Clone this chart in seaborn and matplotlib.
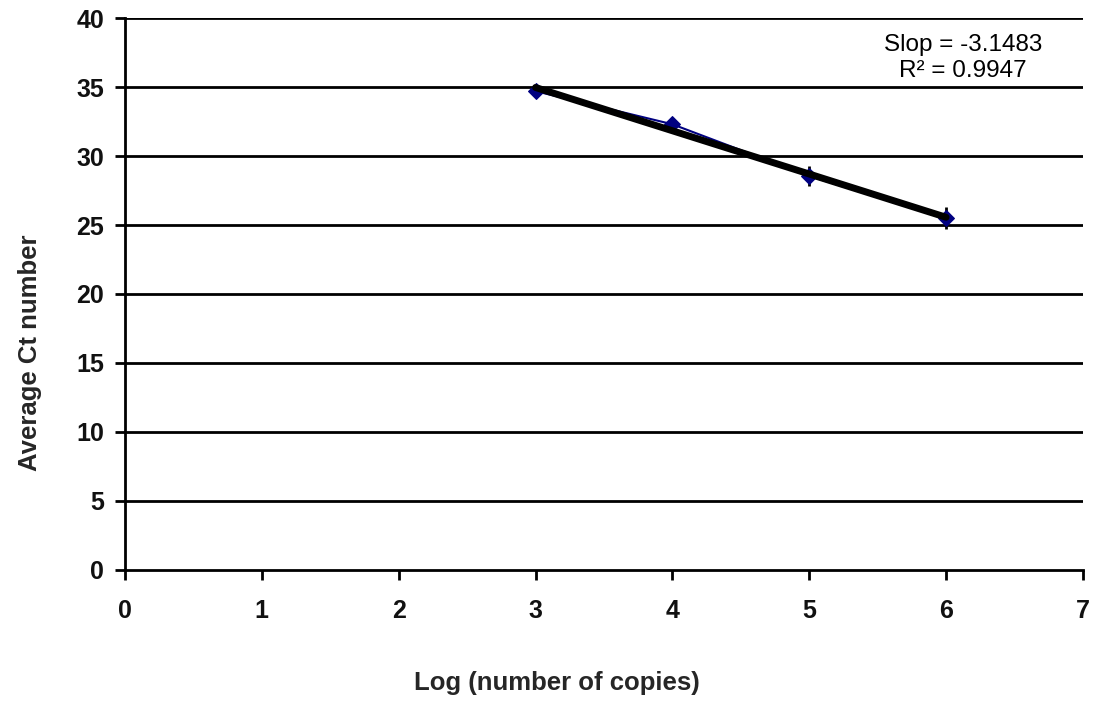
import matplotlib
matplotlib.use("Agg")
import matplotlib.pyplot as plt
import seaborn as sns
import numpy as np
import pandas as pd

log_copies = [3, 4, 5, 6]
avg_ct = [34.7, 32.3, 28.55, 25.5]
ct_err = [0.3, 0.35, 0.75, 0.8]
x_ticks = [0, 1, 2, 3, 4, 5, 6, 7]
y_ticks = [0, 5, 10, 15, 20, 25, 30, 35, 40]
slope_text = "Slop = -3.1483"
r2_text = "R\u00b2 = 0.9947"

sns.set_style("white")
plt.rcParams['font.family'] = ['Liberation Sans', 'DejaVu Sans']

df = pd.DataFrame({"x": log_copies, "y": avg_ct, "err": ct_err})

fig = plt.figure(figsize=(10.98, 7.01), dpi=100)
ax = fig.add_axes([0.1138, 0.1869, 0.8725, 0.7874])

for yv in y_ticks[1:]:
    ax.axhline(yv, color="black", lw=2, zorder=1)

ax.errorbar(df["x"], df["y"], yerr=df["err"], fmt="none", ecolor="black",
            elinewidth=2, capsize=0, zorder=3)
sns.lineplot(data=df, x="x", y="y", ax=ax, color="#000080", lw=1.5,
             marker="D", markersize=8, markeredgecolor="#000080", zorder=4)
sns.regplot(data=df, x="x", y="y", ax=ax, ci=None, scatter=False, truncate=True,
            line_kws={"color": "black", "lw": 5, "zorder": 5})

ax.set_xlim(0, 7)
ax.set_ylim(0, 40)
ax.set_xticks(x_ticks)
ax.set_yticks(y_ticks)
ax.tick_params(axis="both", direction="out", length=7, width=2, colors="black",
               labelsize=18, left=True, bottom=True)
ax.tick_params(axis="x", pad=14)
ax.tick_params(axis="y", pad=8)
for lab in ax.get_xticklabels() + ax.get_yticklabels():
    lab.set_fontweight("bold")
    lab.set_color("#111111")

for s in ["top", "right"]:
    ax.spines[s].set_visible(False)
for s in ["left", "bottom"]:
    ax.spines[s].set_color("black")
    ax.spines[s].set_linewidth(2)

ax.set_xlabel("Log (number of copies)", fontsize=18.5, fontweight="bold")
ax.set_ylabel("Average Ct number", fontsize=18.5, fontweight="bold")
ax.xaxis.set_label_coords(0.451, -0.205)
ax.yaxis.set_label_coords(-0.099, 0.393)
ax.xaxis.label.set_va("center")
ax.yaxis.label.set_va("center")

ax.text(6.125, 37.1, slope_text + "\n" + r2_text, ha="center", va="center",
        fontsize=17.5, linespacing=1.2, color="black")

fig.savefig("out.png", dpi=100)
